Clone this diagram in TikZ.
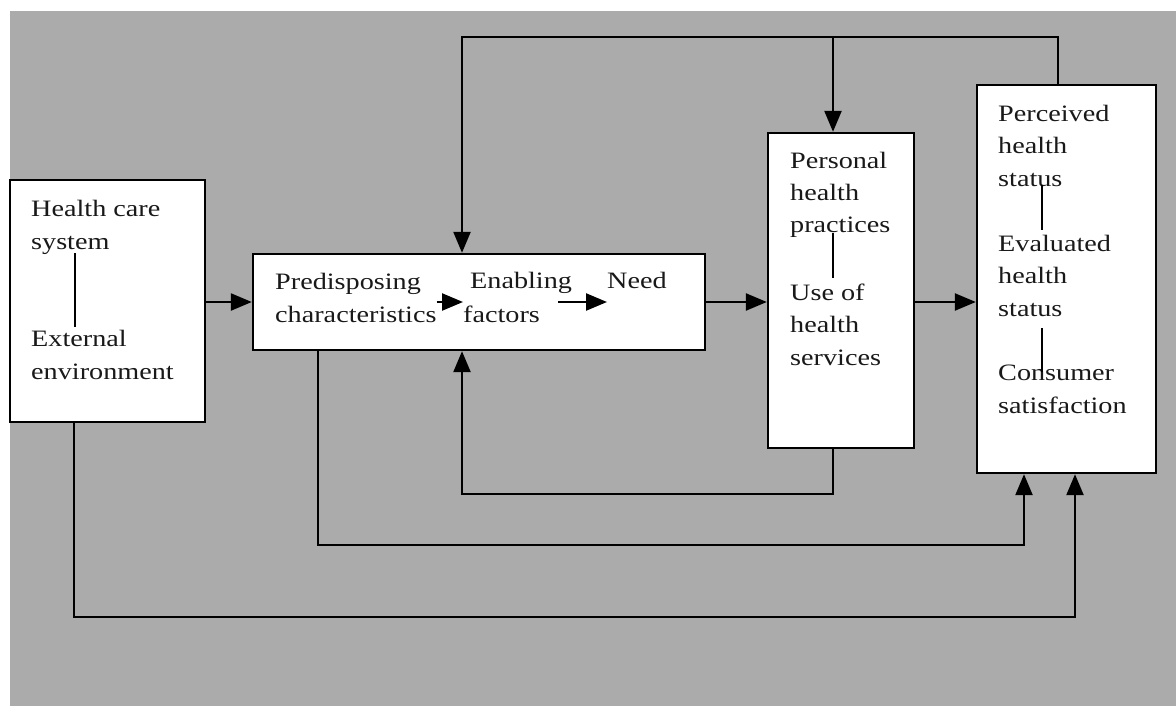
\documentclass[tikz,border=0pt]{standalone}
\usepackage{fontspec}
\setmainfont{Liberation Serif}[FakeStretch=1.2]
\usetikzlibrary{arrows.meta}
\begin{document}
\begin{tikzpicture}[x=1pt,y=-1pt,
  box/.style={draw=black, line width=2.4pt, fill=white, inner sep=0pt, minimum width=#1},
  txt/.style={anchor=base west, align=left, inner sep=0pt, font=\fontsize{23.5}{32.5}\selectfont, text=black!90},
  conn/.style={draw=black, line width=2.4pt},
  arr/.style={conn, -{Triangle[length=21pt,width=17pt]}},
  inl/.style={draw=black, line width=1.8pt}]
\useasboundingbox (0,0) rectangle (1176,706);
\fill[white] (0,0) rectangle (1176,706);
\fill[black!33] (10,11) rectangle (1176,706);
% boxes
\node[box=195pt, minimum height=242pt] (A) at (107.5,301) {};
\node[box=452pt, minimum height=96pt] (B) at (479,302) {};
\node[box=146pt, minimum height=315pt] (C) at (841,290.5) {};
\node[box=179pt, minimum height=388pt] (D) at (1066.5,279) {};
% texts (anchored at the baseline of their last line)
\node[txt] (a1) at (31,249) {Health care\\system};
\node[txt] (a2) at (31,379) {External\\environment};
\node[txt] (b1) at (275,322) {Predisposing\\characteristics};
\node[txt] (b2) at (470,288) {Enabling};
\node[txt] (b3) at (463,322) {factors};
\node[txt] (b4) at (607,288) {Need};
\node[txt] (c1) at (790,233) {Personal\\health\\practices};
\node[txt] (c2) at (790,365) {Use of\\health\\services};
\node[txt] (d1) at (998,186) {Perceived\\health\\status};
\node[txt] (d2) at (998,316) {Evaluated\\health\\status};
\node[txt] (d3) at (998,413) {Consumer\\satisfaction};
% inner links
\draw[inl] (75,253) -- (75,327);
\draw[inl] (833,233) -- (833,278);
\draw[inl] (1042,185) -- (1042,230);
\draw[inl] (1042,328) -- (1042,372);
\coordinate (ya) at (0,302);
\coordinate (en) at (558,302);
\draw[arr] (b1.east |- ya) -- (b3.west |- ya);
\draw[arr] (en) -- (b4.west |- ya);
% coordinates for routing
\coordinate (tR) at (1058,37);
\coordinate (tL) at (462,37);
\coordinate (tC) at (833,37);
\coordinate (lC) at (833,494);
\coordinate (lB) at (318,545);
\coordinate (lBe) at (1024,545);
\coordinate (lA) at (74,617);
\coordinate (lAe) at (1075,617);
% main connectors
\draw[arr] (A.east |- ya) -- (B.west |- ya);
\draw[arr] (B.east |- ya) -- (C.west |- ya);
\draw[arr] (C.east |- ya) -- (D.west |- ya);
\draw[arr] (D.north -| tR) -- (tR) -- (tL) -- (tL |- B.north);
\draw[arr] (tC) -- (tC |- C.north);
\draw[arr] (C.south -| lC) -- (lC) -- (lC -| tL) -- (tL |- B.south);
\draw[arr] (B.south -| lB) -- (lB) -- (lBe) -- (lBe |- D.south);
\draw[arr] (A.south -| lA) -- (lA) -- (lAe) -- (lAe |- D.south);
\end{tikzpicture}
\end{document}
